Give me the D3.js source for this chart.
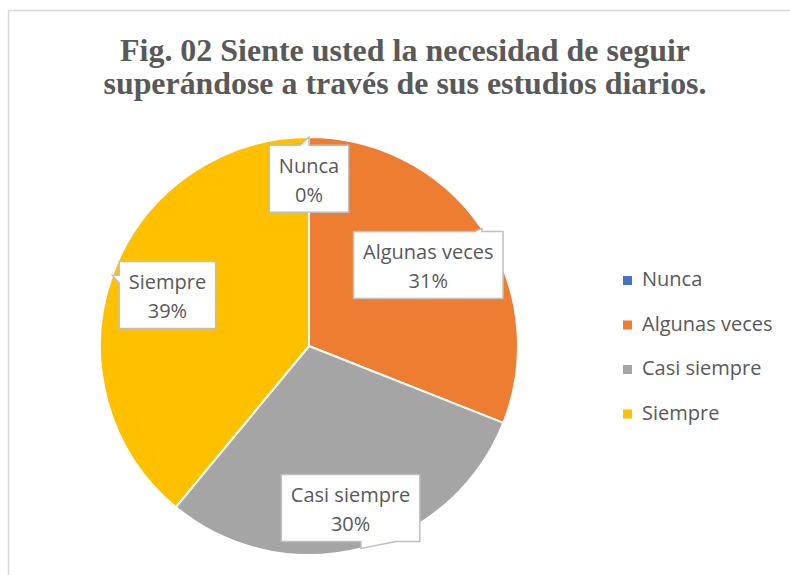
<!DOCTYPE html>
<html>
<head>
<meta charset="utf-8">
<script src="https://cdn.jsdelivr.net/npm/d3@7"></script>
<style>
  body { margin: 0; background: #fff; }
  svg { display: block; }
</style>
</head>
<body>
<script>
// data
var categories = ["Nunca", "Algunas veces", "Casi siempre", "Siempre"];
var values = [0, 31, 30, 39];
var percentLabels = ["0%", "31%", "30%", "39%"];
var colors = ["#4472C4", "#ED7D31", "#A5A5A5", "#FFC000"];
var titleLines = [
  "Fig. 02 Siente usted la necesidad de seguir",
  "superándose a través de sus estudios diarios."
];

// layout
var width = 790;
var height = 575;
var cx = 309, cy = 346, radius = 209;
var labelRadius = [0.80, 0.69, 0.80, 0.72];
var wedge = [-9, -7, 35, 8];
var textColor = "#595959";

var svg = d3.select("body").append("svg")
  .attr("width", width)
  .attr("height", height);

// chart area border
svg.append("rect")
  .attr("x", 8.5)
  .attr("y", 10.5)
  .attr("width", width + 20)
  .attr("height", height + 20)
  .attr("fill", "#fff")
  .attr("stroke", "#d9d9d9")
  .attr("stroke-width", 1.5);

// title
svg.selectAll(".title")
  .data(titleLines)
  .enter().append("text")
  .attr("class", "title")
  .attr("x", 405)
  .attr("y", function(d, i) { return 61 + i * 33; })
  .attr("text-anchor", "middle")
  .attr("textLength", function(d, i) { return i == 0 ? 570 : 603; })
  .attr("lengthAdjust", "spacingAndGlyphs")
  .style("font-family", "'Liberation Serif', 'Times New Roman', serif")
  .style("font-weight", "bold")
  .style("font-size", "31px")
  .style("fill", textColor)
  .text(function(d) { return d; });

var pie = d3.pie().sort(null).value(function(d) { return d; });
var arcs = pie(values);

var arc = d3.arc().innerRadius(0).outerRadius(radius);
var edgeArc = d3.arc().innerRadius(radius).outerRadius(radius);

var g = svg.append("g").attr("transform", "translate(" + cx + "," + cy + ")");

g.selectAll("path.slice")
  .data(arcs)
  .enter().append("path")
  .attr("class", "slice")
  .attr("d", arc)
  .attr("fill", function(d, i) { return colors[i]; })
  .attr("stroke", "#fff")
  .attr("stroke-width", 2)
  .attr("stroke-linejoin", "round");

// callout labels
function calloutPath(x0, y0, x1, y1, tx, ty, w) {
  var a, b;
  if (ty < y0) {
    a = Math.min(tx, tx + w); b = Math.max(tx, tx + w);
    return "M" + x0 + "," + y0 + "L" + a + "," + y0 + "L" + tx + "," + ty + "L" + b + "," + y0 +
      "L" + x1 + "," + y0 + "L" + x1 + "," + y1 + "L" + x0 + "," + y1 + "Z";
  } else if (ty > y1) {
    a = Math.min(tx, tx + w); b = Math.max(tx, tx + w);
    return "M" + x0 + "," + y0 + "L" + x1 + "," + y0 + "L" + x1 + "," + y1 + "L" + b + "," + y1 +
      "L" + tx + "," + ty + "L" + a + "," + y1 + "L" + x0 + "," + y1 + "Z";
  } else if (tx < x0) {
    a = Math.min(ty, ty + w); b = Math.max(ty, ty + w);
    return "M" + x0 + "," + y0 + "L" + x1 + "," + y0 + "L" + x1 + "," + y1 + "L" + x0 + "," + y1 +
      "L" + x0 + "," + b + "L" + tx + "," + ty + "L" + x0 + "," + a + "Z";
  } else {
    a = Math.min(ty, ty + w); b = Math.max(ty, ty + w);
    return "M" + x0 + "," + y0 + "L" + x1 + "," + y0 + "L" + x1 + "," + a + "L" + tx + "," + ty +
      "L" + x1 + "," + b + "L" + x1 + "," + y1 + "L" + x0 + "," + y1 + "Z";
  }
}

var labels = g.selectAll("g.label")
  .data(arcs)
  .enter().append("g")
  .attr("class", "label");

labels.each(function(d, i) {
  var sel = d3.select(this);
  var mid = (d.startAngle + d.endAngle) / 2;
  var lr = radius * labelRadius[i];
  var lx = lr * Math.sin(mid);
  var ly = -lr * Math.cos(mid);
  var tip = edgeArc.centroid(d);

  var path = sel.append("path");
  var t1 = sel.append("text")
    .attr("x", lx).attr("y", ly - 6)
    .attr("text-anchor", "middle")
    .style("font-family", "'Open Sans', sans-serif")
    .style("font-size", "20px")
    .style("fill", textColor)
    .text(categories[i]);
  var t2 = sel.append("text")
    .attr("x", lx).attr("y", ly + 23)
    .attr("text-anchor", "middle")
    .style("font-family", "'Open Sans', sans-serif")
    .style("font-size", "20px")
    .style("fill", textColor)
    .text(percentLabels[i]);

  var tw = Math.max(t1.node().getComputedTextLength(), t2.node().getComputedTextLength());
  var x0 = lx - tw / 2 - 9.5, x1 = lx + tw / 2 + 9.5;
  var y0 = ly - 33.5, y1 = ly + 33.5;

  path.attr("d", calloutPath(x0, y0, x1, y1, tip[0], tip[1], wedge[i]))
    .attr("fill", "#fff")
    .attr("stroke", "#bfbfbf")
    .attr("stroke-width", 1.5);
});

// legend
var legend = svg.selectAll(".legend")
  .data(categories)
  .enter().append("g")
  .attr("class", "legend")
  .attr("transform", function(d, i) { return "translate(0," + (286 + i * 44.5) + ")"; });

legend.append("rect")
  .attr("x", 623)
  .attr("y", -10)
  .attr("width", 9)
  .attr("height", 9)
  .attr("fill", function(d, i) { return colors[i]; });

legend.append("text")
  .attr("x", 642)
  .attr("y", 0)
  .style("font-family", "'Open Sans', sans-serif")
  .style("font-size", "20px")
  .style("fill", textColor)
  .text(function(d) { return d; });
</script>
</body>
</html>
